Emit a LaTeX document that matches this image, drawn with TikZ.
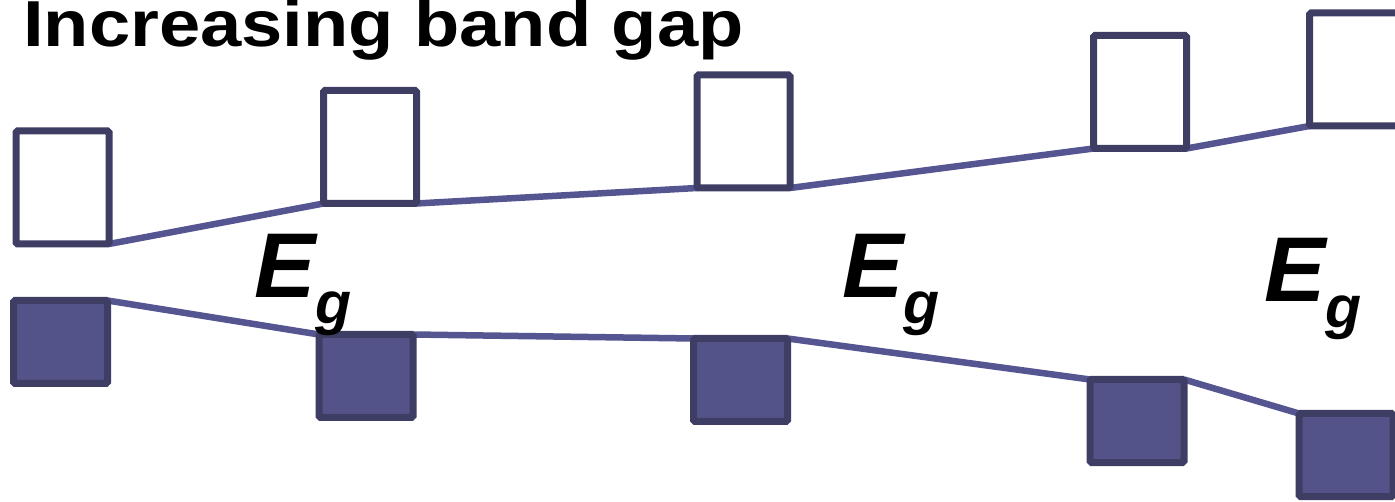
\documentclass[tikz,border=0pt]{standalone}
\usepackage{fontspec}
\setmainfont{Liberation Sans}
\pgfdeclarelayer{background}
\pgfsetlayers{background,main}
\begin{document}
\begin{tikzpicture}[x=1pt,y=-1pt,
  bandline/.style={line width=6.5pt, draw={rgb,255:red,85;green,85;blue,145}},
  cband/.style={draw={rgb,255:red,62;green,62;blue,100}, line width=7pt, fill=white,
    rounded corners=1.5pt, minimum width=93pt, minimum height=113pt, inner sep=0, outer sep=0},
  vband/.style={draw={rgb,255:red,62;green,62;blue,100}, line width=7pt,
    fill={rgb,255:red,83;green,83;blue,137},
    rounded corners=1.5pt, minimum width=94pt, minimum height=83pt, inner sep=0, outer sep=0},
  gaplabel/.style={anchor=base west, inner sep=0, font=\bfseries\itshape\fontsize{92}{92}\selectfont}
]
\useasboundingbox (0,0) rectangle (1395,502);
\clip (0,0) rectangle (1395,502);

% conduction band edges (open boxes)
\node[cband] (c1) at (62.5,187.5) {};
\node[cband] (c2) at (370,147) {};
\node[cband] (c3) at (743.5,131.5) {};
\node[cband] (c4) at (1140,92) {};
\node[cband] (c5) at (1356,69.5) {};

% valence band edges (filled boxes)
\node[vband] (v1) at (60.5,342) {};
\node[vband] (v2) at (366,376) {};
\node[vband] (v3) at (740.5,380) {};
\node[vband] (v4) at (1137,421) {};
\node[vband] (v5) at (1346,455) {};

% connecting lines, kept behind the boxes
\begin{pgfonlayer}{background}
\draw[bandline] (c1.south east) -- (c2.south west);
\draw[bandline] (c2.south east) -- (c3.south west);
\draw[bandline] (c3.south east) -- (c4.south west);
\draw[bandline] (c4.south east) -- (c5.south west);
\draw[bandline] (v1.north east) -- (v2.north west);
\draw[bandline] (v2.north east) -- (v3.north west);
\draw[bandline] (v3.north east) -- (v4.north west);
\draw[bandline] (v4.north east) -- (v5.north west);
\end{pgfonlayer}

% title, set slightly wide
\node[anchor=base west, inner sep=0, font=\bfseries\fontsize{65}{65}\selectfont] (title) at (23,47)
  {\scalebox{1.14}[1]{Increasing band gap}};

% band gap labels
\node[gaplabel] (eg1) at (254,298) {E\raisebox{-26pt}{\fontsize{59}{59}\selectfont g}};
\node[gaplabel] (eg2) at (842,298) {E\raisebox{-26pt}{\fontsize{59}{59}\selectfont g}};
\node[gaplabel] (eg3) at (1264,302) {E\raisebox{-26pt}{\fontsize{59}{59}\selectfont g}};
\end{tikzpicture}
\end{document}
